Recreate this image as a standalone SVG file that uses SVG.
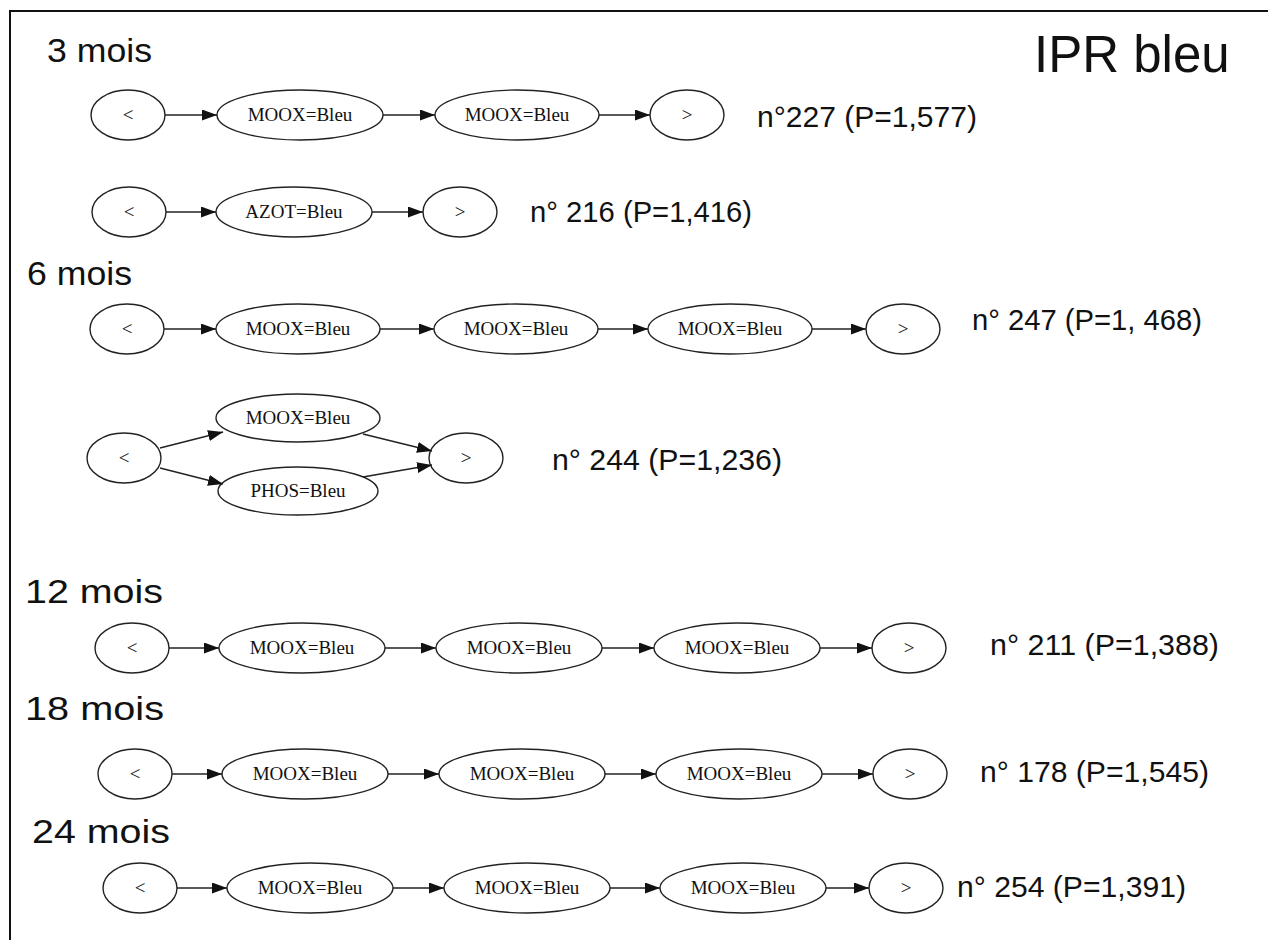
<svg xmlns="http://www.w3.org/2000/svg" width="1268" height="940" viewBox="0 0 1268 940">
<style>
.n ellipse{fill:#fff;stroke:#222;stroke-width:1.4}
.n text{font-family:"Liberation Serif",serif;font-size:19px;fill:#111;text-anchor:middle}
.lb{font-family:"Liberation Sans",Arial,sans-serif;fill:#111}
.sec{font-size:33px}
.num{font-size:29px}
#edges line{stroke:#222;stroke-width:1.4;marker-end:url(#ah)}
</style>
<defs>
<marker id="ah" markerUnits="userSpaceOnUse" markerWidth="16" markerHeight="12" refX="15" refY="5.5" orient="auto">
<path d="M0,0 L15,5.5 L0,11 z" fill="#111"/>
</marker>
</defs>
<rect width="1268" height="940" fill="#fff"/>
<path d="M10,940 V11 H1268" fill="none" stroke="#111" stroke-width="2"/>

<text class="lb" x="1034" y="72" font-size="51">IPR bleu</text>
<text class="lb sec" x="47" y="62" textLength="105" lengthAdjust="spacingAndGlyphs">3 mois</text>
<text class="lb sec" x="27" y="285" textLength="105" lengthAdjust="spacingAndGlyphs">6 mois</text>
<text class="lb sec" x="25" y="603" textLength="138" lengthAdjust="spacingAndGlyphs">12 mois</text>
<text class="lb sec" x="25" y="720" textLength="139" lengthAdjust="spacingAndGlyphs">18 mois</text>
<text class="lb sec" x="32" y="843" textLength="138" lengthAdjust="spacingAndGlyphs">24 mois</text>

<text class="lb num" x="757" y="127" textLength="220" lengthAdjust="spacingAndGlyphs">n°227 (P=1,577)</text>
<text class="lb num" x="530" y="222" textLength="222" lengthAdjust="spacingAndGlyphs">n° 216 (P=1,416)</text>
<text class="lb num" x="972" y="330" textLength="230" lengthAdjust="spacingAndGlyphs">n° 247 (P=1, 468)</text>
<text class="lb num" x="552" y="470" textLength="230" lengthAdjust="spacingAndGlyphs">n° 244 (P=1,236)</text>
<text class="lb num" x="990" y="655" textLength="229" lengthAdjust="spacingAndGlyphs">n° 211 (P=1,388)</text>
<text class="lb num" x="980" y="782" textLength="229" lengthAdjust="spacingAndGlyphs">n° 178 (P=1,545)</text>
<text class="lb num" x="957" y="897" textLength="229" lengthAdjust="spacingAndGlyphs">n° 254 (P=1,391)</text>

<!-- Row 1 -->
<g id="r1_start" class="n"><ellipse cx="128" cy="115" rx="37" ry="25"/><text x="128" y="121">&lt;</text></g>
<g id="r1_moox1" class="n"><ellipse cx="300" cy="115" rx="83" ry="25"/><text x="300" y="121">MOOX=Bleu</text></g>
<g id="r1_moox2" class="n"><ellipse cx="517" cy="115" rx="82" ry="25"/><text x="517" y="121">MOOX=Bleu</text></g>
<g id="r1_end" class="n"><ellipse cx="687" cy="115" rx="37" ry="25"/><text x="687" y="121">&gt;</text></g>
<!-- Row 2 -->
<g id="r2_start" class="n"><ellipse cx="129" cy="212" rx="37" ry="25"/><text x="129" y="218">&lt;</text></g>
<g id="r2_azot" class="n"><ellipse cx="294" cy="212" rx="78" ry="25"/><text x="294" y="218">AZOT=Bleu</text></g>
<g id="r2_end" class="n"><ellipse cx="460" cy="212" rx="37" ry="25"/><text x="460" y="218">&gt;</text></g>
<!-- Row 3 -->
<g id="r3_start" class="n"><ellipse cx="127" cy="329" rx="37" ry="25"/><text x="127" y="335">&lt;</text></g>
<g id="r3_moox1" class="n"><ellipse cx="298" cy="329" rx="82" ry="25"/><text x="298" y="335">MOOX=Bleu</text></g>
<g id="r3_moox2" class="n"><ellipse cx="516" cy="329" rx="82" ry="25"/><text x="516" y="335">MOOX=Bleu</text></g>
<g id="r3_moox3" class="n"><ellipse cx="730" cy="329" rx="82" ry="25"/><text x="730" y="335">MOOX=Bleu</text></g>
<g id="r3_end" class="n"><ellipse cx="903" cy="329" rx="37" ry="25"/><text x="903" y="335">&gt;</text></g>
<!-- Row 4 -->
<g id="r4_start" class="n"><ellipse cx="124" cy="458" rx="37" ry="25"/><text x="124" y="464">&lt;</text></g>
<g id="r4_moox" class="n"><ellipse cx="298" cy="418" rx="82" ry="24"/><text x="298" y="424">MOOX=Bleu</text></g>
<g id="r4_phos" class="n"><ellipse cx="298" cy="491" rx="80" ry="24"/><text x="298" y="497">PHOS=Bleu</text></g>
<g id="r4_end" class="n"><ellipse cx="466" cy="458" rx="37" ry="25"/><text x="466" y="464">&gt;</text></g>
<!-- Row 5 -->
<g id="r5_start" class="n"><ellipse cx="132" cy="648" rx="37" ry="25"/><text x="132" y="654">&lt;</text></g>
<g id="r5_moox1" class="n"><ellipse cx="302" cy="648" rx="83" ry="25"/><text x="302" y="654">MOOX=Bleu</text></g>
<g id="r5_moox2" class="n"><ellipse cx="519" cy="648" rx="83" ry="25"/><text x="519" y="654">MOOX=Bleu</text></g>
<g id="r5_moox3" class="n"><ellipse cx="737" cy="648" rx="83" ry="25"/><text x="737" y="654">MOOX=Bleu</text></g>
<g id="r5_end" class="n"><ellipse cx="909" cy="648" rx="37" ry="25"/><text x="909" y="654">&gt;</text></g>
<!-- Row 6 -->
<g id="r6_start" class="n"><ellipse cx="135" cy="774" rx="37" ry="25"/><text x="135" y="780">&lt;</text></g>
<g id="r6_moox1" class="n"><ellipse cx="305" cy="774" rx="83" ry="25"/><text x="305" y="780">MOOX=Bleu</text></g>
<g id="r6_moox2" class="n"><ellipse cx="522" cy="774" rx="83" ry="25"/><text x="522" y="780">MOOX=Bleu</text></g>
<g id="r6_moox3" class="n"><ellipse cx="739" cy="774" rx="83" ry="25"/><text x="739" y="780">MOOX=Bleu</text></g>
<g id="r6_end" class="n"><ellipse cx="910" cy="774" rx="37" ry="25"/><text x="910" y="780">&gt;</text></g>
<!-- Row 7 -->
<g id="r7_start" class="n"><ellipse cx="140" cy="888" rx="37" ry="25"/><text x="140" y="894">&lt;</text></g>
<g id="r7_moox1" class="n"><ellipse cx="310" cy="888" rx="83" ry="25"/><text x="310" y="894">MOOX=Bleu</text></g>
<g id="r7_moox2" class="n"><ellipse cx="527" cy="888" rx="83" ry="25"/><text x="527" y="894">MOOX=Bleu</text></g>
<g id="r7_moox3" class="n"><ellipse cx="743" cy="888" rx="83" ry="25"/><text x="743" y="894">MOOX=Bleu</text></g>
<g id="r7_end" class="n"><ellipse cx="906" cy="888" rx="37" ry="25"/><text x="906" y="894">&gt;</text></g>

<g id="edges">
<line x1="165" y1="115" x2="217" y2="115"/>
<line x1="383" y1="115" x2="435" y2="115"/>
<line x1="599" y1="115" x2="650" y2="115"/>
<line x1="166" y1="212" x2="216" y2="212"/>
<line x1="372" y1="212" x2="423" y2="212"/>
<line x1="164" y1="329" x2="216" y2="329"/>
<line x1="380" y1="329" x2="434" y2="329"/>
<line x1="598" y1="329" x2="648" y2="329"/>
<line x1="812" y1="329" x2="866" y2="329"/>
<line x1="160" y1="448" x2="223" y2="432"/>
<line x1="160" y1="468" x2="223" y2="484"/>
<line x1="363" y1="434" x2="432" y2="451"/>
<line x1="363" y1="477" x2="432" y2="465"/>
<line x1="169" y1="648" x2="219" y2="648"/>
<line x1="385" y1="648" x2="436" y2="648"/>
<line x1="602" y1="648" x2="654" y2="648"/>
<line x1="820" y1="648" x2="872" y2="648"/>
<line x1="172" y1="774" x2="222" y2="774"/>
<line x1="388" y1="774" x2="439" y2="774"/>
<line x1="605" y1="774" x2="656" y2="774"/>
<line x1="822" y1="774" x2="873" y2="774"/>
<line x1="177" y1="888" x2="227" y2="888"/>
<line x1="393" y1="888" x2="444" y2="888"/>
<line x1="610" y1="888" x2="660" y2="888"/>
<line x1="826" y1="888" x2="869" y2="888"/>
</g>
</svg>
